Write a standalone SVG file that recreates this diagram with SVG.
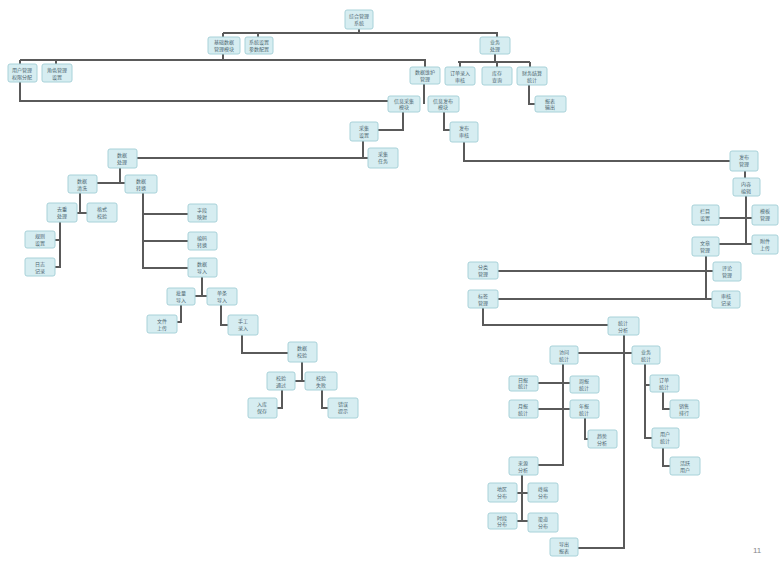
<svg xmlns="http://www.w3.org/2000/svg" width="779" height="562" viewBox="0 0 779 562">
<style>
.n rect{fill:#d6edf1;stroke:#a8d2d9;stroke-width:1}
.n text{font-family:"Noto Sans CJK SC","Liberation Sans",sans-serif;font-size:5px;fill:#4d6670;text-anchor:middle}
#edges path{fill:none;stroke:#5a5a5a;stroke-width:2}
.pg{font-family:"Liberation Sans",sans-serif;font-size:8px;fill:#888}
</style>
<rect width="779" height="562" fill="#ffffff"/>
<g id="edges">
<path d="M359,29V33M223,33H497V37M223,33V37M258,33V37"/>
<path d="M223,54V60M20,60H425V67M56,60V64M20,60V101H388"/>
<path d="M495,54V62M458,62H530M460,62V67M497,62V67M530,62V67M529,85V104H535"/>
<path d="M424,84V104"/>
<path d="M403,112V130H378M363,141V158H368M137,158H363"/>
<path d="M444,112V130H450M464,142V161H730"/>
<path d="M745,171V178M746,196V243M719,218H752M719,244H752"/>
<path d="M706,256V300M498,271H713M498,299H712"/>
<path d="M483,308V325H608M624,335V548H578M578,353H632"/>
<path d="M563,364V465H538M538,383H570M538,409H570M585,418V439H588"/>
<path d="M522,475V521M517,493H528M517,521H528"/>
<path d="M645,364V438H652M645,385H650M663,392V409H670M663,448V466H670"/>
<path d="M120,167V183M97,183H125M80,193V213M77,213H87M60,222V267H55M55,240H60"/>
<path d="M143,193V268H188M143,214H188M143,241H188"/>
<path d="M202,277V295M195,296H207M181,305V322H177M221,305V325H228"/>
<path d="M242,335V353H288M302,362V380M295,381H305M282,390V408H277M322,390V408H328"/>
</g>
<g id="n1" class="n"><rect x="345" y="10" width="28" height="19" rx="2"/><text x="359" y="18">综合管理</text><text x="359" y="25">系统</text></g>
<g id="n2" class="n"><rect x="208" y="37" width="32" height="17" rx="2"/><text x="224" y="44">基础数据</text><text x="224" y="51">管理模块</text></g>
<g id="n3" class="n"><rect x="245" y="37" width="28" height="17" rx="2"/><text x="259" y="44">系统设置</text><text x="259" y="51">参数配置</text></g>
<g id="n4" class="n"><rect x="480" y="37" width="30" height="17" rx="2"/><text x="495" y="44">业务</text><text x="495" y="51">处理</text></g>
<g id="n5" class="n"><rect x="8" y="64" width="29" height="18" rx="2"/><text x="22" y="72">用户管理</text><text x="22" y="79">权限分配</text></g>
<g id="n6" class="n"><rect x="42" y="64" width="30" height="18" rx="2"/><text x="57" y="72">角色管理</text><text x="57" y="79">设置</text></g>
<g id="n7" class="n"><rect x="410" y="67" width="30" height="17" rx="2"/><text x="425" y="74">数据维护</text><text x="425" y="81">管理</text></g>
<g id="n8" class="n"><rect x="445" y="67" width="30" height="18" rx="2"/><text x="460" y="75">订单录入</text><text x="460" y="82">审核</text></g>
<g id="n9" class="n"><rect x="482" y="67" width="30" height="18" rx="2"/><text x="497" y="75">库存</text><text x="497" y="82">查询</text></g>
<g id="n10" class="n"><rect x="517" y="67" width="30" height="18" rx="2"/><text x="532" y="75">财务结算</text><text x="532" y="82">统计</text></g>
<g id="n11" class="n"><rect x="535" y="96" width="31" height="16" rx="2"/><text x="550" y="103">报表</text><text x="550" y="109">输出</text></g>
<g id="n12" class="n"><rect x="388" y="96" width="32" height="16" rx="2"/><text x="404" y="103">信息采集</text><text x="404" y="109">模块</text></g>
<g id="n13" class="n"><rect x="428" y="96" width="31" height="16" rx="2"/><text x="443" y="103">信息发布</text><text x="443" y="109">模块</text></g>
<g id="n14" class="n"><rect x="350" y="122" width="28" height="19" rx="2"/><text x="364" y="130">采集</text><text x="364" y="137">设置</text></g>
<g id="n15" class="n"><rect x="368" y="148" width="30" height="20" rx="2"/><text x="383" y="156">采集</text><text x="383" y="163">任务</text></g>
<g id="n16" class="n"><rect x="450" y="122" width="28" height="20" rx="2"/><text x="464" y="130">发布</text><text x="464" y="137">审核</text></g>
<g id="n17" class="n"><rect x="108" y="149" width="29" height="19" rx="2"/><text x="122" y="157">数据</text><text x="122" y="164">处理</text></g>
<g id="n18" class="n"><rect x="730" y="151" width="28" height="20" rx="2"/><text x="744" y="159">发布</text><text x="744" y="166">管理</text></g>
<g id="n19" class="n"><rect x="733" y="178" width="27" height="18" rx="2"/><text x="746" y="186">内容</text><text x="746" y="193">编辑</text></g>
<g id="n20" class="n"><rect x="692" y="205" width="27" height="20" rx="2"/><text x="705" y="213">栏目</text><text x="705" y="220">设置</text></g>
<g id="n21" class="n"><rect x="752" y="205" width="26" height="20" rx="2"/><text x="765" y="213">模板</text><text x="765" y="220">管理</text></g>
<g id="n22" class="n"><rect x="692" y="237" width="27" height="19" rx="2"/><text x="705" y="245">文章</text><text x="705" y="252">管理</text></g>
<g id="n23" class="n"><rect x="752" y="235" width="26" height="19" rx="2"/><text x="765" y="243">附件</text><text x="765" y="250">上传</text></g>
<g id="n24" class="n"><rect x="713" y="262" width="28" height="19" rx="2"/><text x="727" y="270">评论</text><text x="727" y="277">管理</text></g>
<g id="n25" class="n"><rect x="712" y="291" width="28" height="17" rx="2"/><text x="726" y="298">审核</text><text x="726" y="305">记录</text></g>
<g id="n26" class="n"><rect x="468" y="262" width="30" height="17" rx="2"/><text x="483" y="269">分类</text><text x="483" y="276">管理</text></g>
<g id="n27" class="n"><rect x="468" y="290" width="30" height="18" rx="2"/><text x="483" y="298">标签</text><text x="483" y="305">管理</text></g>
<g id="n28" class="n"><rect x="608" y="317" width="31" height="18" rx="2"/><text x="623" y="325">统计</text><text x="623" y="332">分析</text></g>
<g id="n29" class="n"><rect x="68" y="175" width="29" height="18" rx="2"/><text x="82" y="183">数据</text><text x="82" y="190">清洗</text></g>
<g id="n30" class="n"><rect x="125" y="175" width="32" height="18" rx="2"/><text x="141" y="183">数据</text><text x="141" y="190">转换</text></g>
<g id="n31" class="n"><rect x="47" y="203" width="30" height="19" rx="2"/><text x="62" y="211">去重</text><text x="62" y="218">处理</text></g>
<g id="n32" class="n"><rect x="87" y="203" width="30" height="19" rx="2"/><text x="102" y="211">格式</text><text x="102" y="218">校验</text></g>
<g id="n33" class="n"><rect x="25" y="231" width="30" height="17" rx="2"/><text x="40" y="238">规则</text><text x="40" y="245">设置</text></g>
<g id="n34" class="n"><rect x="25" y="258" width="30" height="18" rx="2"/><text x="40" y="266">日志</text><text x="40" y="273">记录</text></g>
<g id="n35" class="n"><rect x="188" y="204" width="29" height="18" rx="2"/><text x="202" y="212">字段</text><text x="202" y="219">映射</text></g>
<g id="n36" class="n"><rect x="188" y="232" width="29" height="18" rx="2"/><text x="202" y="240">编码</text><text x="202" y="247">转换</text></g>
<g id="n37" class="n"><rect x="188" y="258" width="29" height="19" rx="2"/><text x="202" y="266">数据</text><text x="202" y="273">导入</text></g>
<g id="n38" class="n"><rect x="167" y="288" width="28" height="17" rx="2"/><text x="181" y="295">批量</text><text x="181" y="302">导入</text></g>
<g id="n39" class="n"><rect x="207" y="288" width="30" height="17" rx="2"/><text x="222" y="295">单条</text><text x="222" y="302">导入</text></g>
<g id="n40" class="n"><rect x="147" y="315" width="30" height="18" rx="2"/><text x="162" y="323">文件</text><text x="162" y="330">上传</text></g>
<g id="n41" class="n"><rect x="228" y="315" width="30" height="20" rx="2"/><text x="243" y="323">手工</text><text x="243" y="330">录入</text></g>
<g id="n42" class="n"><rect x="288" y="342" width="29" height="20" rx="2"/><text x="302" y="350">数据</text><text x="302" y="357">校验</text></g>
<g id="n43" class="n"><rect x="267" y="372" width="28" height="18" rx="2"/><text x="281" y="380">校验</text><text x="281" y="387">通过</text></g>
<g id="n44" class="n"><rect x="305" y="372" width="32" height="18" rx="2"/><text x="321" y="380">校验</text><text x="321" y="387">失败</text></g>
<g id="n45" class="n"><rect x="248" y="398" width="29" height="20" rx="2"/><text x="262" y="406">入库</text><text x="262" y="413">保存</text></g>
<g id="n46" class="n"><rect x="328" y="398" width="30" height="20" rx="2"/><text x="343" y="406">错误</text><text x="343" y="413">提示</text></g>
<g id="n47" class="n"><rect x="550" y="346" width="28" height="18" rx="2"/><text x="564" y="354">访问</text><text x="564" y="361">统计</text></g>
<g id="n48" class="n"><rect x="632" y="346" width="28" height="18" rx="2"/><text x="646" y="354">业务</text><text x="646" y="361">统计</text></g>
<g id="n49" class="n"><rect x="509" y="376" width="29" height="15" rx="2"/><text x="523" y="382">日报</text><text x="523" y="388">统计</text></g>
<g id="n50" class="n"><rect x="570" y="376" width="29" height="17" rx="2"/><text x="584" y="383">周报</text><text x="584" y="390">统计</text></g>
<g id="n51" class="n"><rect x="509" y="400" width="29" height="18" rx="2"/><text x="523" y="408">月报</text><text x="523" y="415">统计</text></g>
<g id="n52" class="n"><rect x="570" y="400" width="29" height="18" rx="2"/><text x="584" y="408">年报</text><text x="584" y="415">统计</text></g>
<g id="n53" class="n"><rect x="588" y="430" width="29" height="18" rx="2"/><text x="602" y="438">趋势</text><text x="602" y="445">分析</text></g>
<g id="n54" class="n"><rect x="509" y="457" width="29" height="18" rx="2"/><text x="523" y="465">来源</text><text x="523" y="472">分析</text></g>
<g id="n55" class="n"><rect x="488" y="483" width="29" height="19" rx="2"/><text x="502" y="491">地区</text><text x="502" y="498">分布</text></g>
<g id="n56" class="n"><rect x="528" y="483" width="30" height="19" rx="2"/><text x="543" y="491">终端</text><text x="543" y="498">分布</text></g>
<g id="n57" class="n"><rect x="488" y="513" width="29" height="16" rx="2"/><text x="502" y="520">时段</text><text x="502" y="526">分布</text></g>
<g id="n58" class="n"><rect x="528" y="513" width="30" height="19" rx="2"/><text x="543" y="521">渠道</text><text x="543" y="528">分布</text></g>
<g id="n59" class="n"><rect x="650" y="375" width="29" height="17" rx="2"/><text x="664" y="382">订单</text><text x="664" y="389">统计</text></g>
<g id="n60" class="n"><rect x="670" y="400" width="29" height="18" rx="2"/><text x="684" y="408">销售</text><text x="684" y="415">排行</text></g>
<g id="n61" class="n"><rect x="652" y="428" width="27" height="20" rx="2"/><text x="665" y="436">用户</text><text x="665" y="443">统计</text></g>
<g id="n62" class="n"><rect x="670" y="457" width="30" height="18" rx="2"/><text x="685" y="465">活跃</text><text x="685" y="472">用户</text></g>
<g id="n63" class="n"><rect x="550" y="538" width="28" height="18" rx="2"/><text x="564" y="546">导出</text><text x="564" y="553">报表</text></g>
<text class="pg" x="753" y="553">11</text>
</svg>
